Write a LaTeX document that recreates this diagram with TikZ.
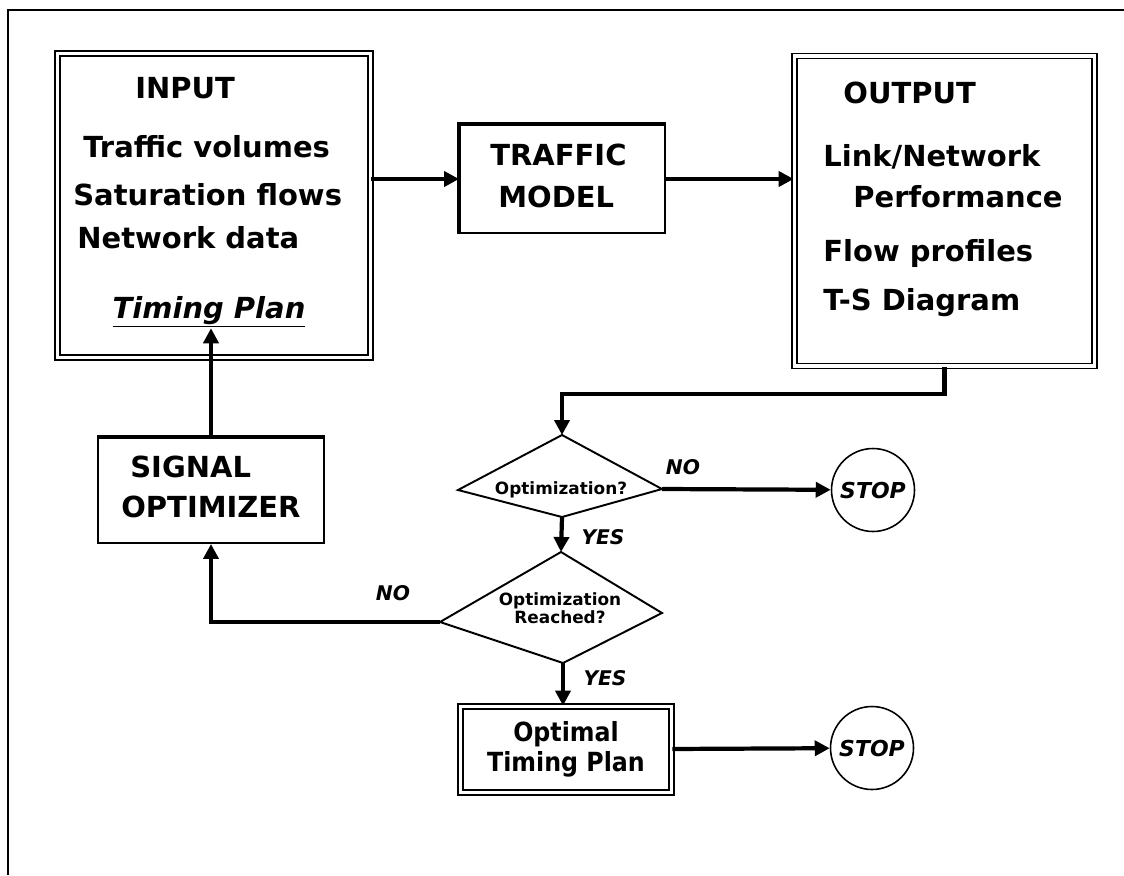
\documentclass[tikz,border=0pt]{standalone}
\usepackage{fontspec}
\setmainfont{DejaVu Sans}
\newfontfamily\narrowfont[FakeStretch=0.9]{DejaVu Sans}
\usetikzlibrary{arrows.meta}
\tikzset{
txt/.style={font=\fontsize{16.5}{18}\selectfont\bfseries, inner sep=0pt, anchor=west},
small/.style={font=\fontsize{9.6}{10.5}\selectfont\bfseries, inner sep=0pt, align=center},
yn/.style={font=\fontsize{11.5}{13}\selectfont\bfseries\itshape, inner sep=0pt},
box/.style={draw, line width=1.1pt, inner sep=0pt},
dbox/.style={draw, line width=1pt, double, double distance=1.8pt, inner sep=0pt},
kite/.style={draw, line width=1.1pt},
flow/.style={line width=2.4pt, -{Triangle[length=0.3cm, width=0.3cm]}},
stopc/.style={draw, circle, line width=0.9pt, minimum size=1.66cm, inner sep=0pt,
  font=\fontsize{12.5}{14}\selectfont\bfseries\itshape}
}

\begin{document}
\begin{tikzpicture}[x=0.02cm, y=-0.02cm]
\useasboundingbox (0,0) rectangle (1124,875);
\draw[line width=1.2pt] (1124,10) -- (8,10) -- (8,875);

% boxes
\node[dbox, minimum width=6.26cm, minimum height=6.08cm] (input) at (214,205.5) {};
\node[box, minimum width=4.1cm, minimum height=2.16cm] (traffic) at (562.5,179) {};
\node[dbox, minimum width=6cm, minimum height=6.2cm] (output) at (944.5,211) {};
\node[box, minimum width=4.52cm, minimum height=2.1cm] (signal) at (211,490.5) {};
\node[dbox, minimum width=4.22cm, minimum height=1.72cm, align=center,
  font=\narrowfont\fontsize{15}{17}\selectfont\bfseries] (best) at (566,749.5) {Optimal\\Timing Plan};
\draw[line width=2.2pt] (traffic.south west) -- (traffic.north west) -- (traffic.north east);
\draw[line width=2.2pt] (signal.north west) -- (signal.north east);

\node[txt] (in-title) at (135,88) {INPUT};
\node[txt] (in-vol) at (83,147) {Traffic volumes};
\node[txt] (in-sat) at (73,195) {Saturation flows};
\node[txt] (in-net) at (77,238) {Network data};
\node[inner sep=0pt, font=\fontsize{16.5}{18}\selectfont\bfseries\itshape] (plan) at (209,312) {\underline{Timing Plan}};

\node[txt] (tr-1) at (490,155) {TRAFFIC};
\node[txt] (tr-2) at (498,197) {MODEL};

\node[txt] (out-title) at (843,93) {OUTPUT};
\node[txt] (out-link) at (823,157) {Link/Network};
\node[txt] (out-perf) at (853,197) {Performance};
\node[txt] (out-flow) at (823,253) {Flow profiles};
\node[txt] (out-ts) at (823,303) {T-S Diagram};

\node[txt] (sg-1) at (130,467) {SIGNAL};
\node[txt] (sg-2) at (121,507) {OPTIMIZER};

% decisions
\coordinate (opt-n) at (562,435);
\coordinate (opt-w) at (458,490);
\coordinate (opt-s) at (562,517);
\coordinate (opt-e) at (662,489);
\draw[kite] (opt-n) -- (opt-w) -- (opt-s) -- (opt-e) -- cycle;
\node[small] (opt) at (561,490) {Optimization?};

\coordinate (reach-n) at (561,552);
\coordinate (reach-w) at (440,622);
\coordinate (reach-s) at (563,663);
\coordinate (reach-e) at (662,613);
\draw[kite] (reach-n) -- (reach-w) -- (reach-s) -- (reach-e) -- cycle;
\node[small] (reach) at (560,608) {Optimization\\Reached?};

\node[stopc] (stop1) at (873,490) {STOP};
\node[stopc] (stop2) at (872,748) {STOP};

% arrows
\draw[flow] (input.east |- traffic.west) -- (traffic.west);
\draw[flow] (traffic.east) -- (traffic.east -| output.west);
\draw[flow] (output.south) -- ++(0,27) -| (opt-n);
\draw[flow] (opt-e) -- (stop1);
\draw[flow] (opt-s) -- (reach-n);
\draw[flow] (reach-s) -- (reach-s |- best.north);
\draw[flow] (best) -- (stop2);
\draw[flow] (reach-w) -| (signal.south);
\draw[flow] (signal.north) -- (signal.north |- plan.south);

\node[yn] (yes1) at (603,537) {YES};
\node[yn] (yes2) at (605,678) {YES};
\node[yn] (no1) at (683,467) {NO};
\node[yn] (no2) at (393,593) {NO};
\end{tikzpicture}
\end{document}
